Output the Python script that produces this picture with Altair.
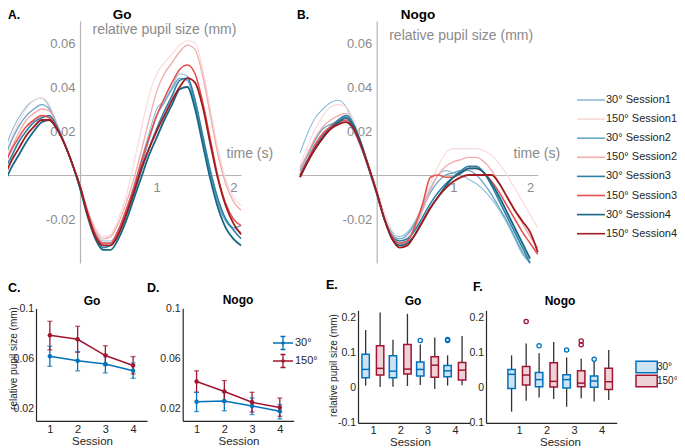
import altair as alt
import pandas as pd

W, H = 669, 440
FONT = "Liberation Sans"
GREY = "#8a8a8a"
AXGREY = "#b3b3b3"
DARK = "#262626"
BLUE = "#0072BD"
RED = "#A2142F"

# ---------------- Panels A / B : pupil time courses ----------------
T = [-1.0, -0.9, -0.8, -0.7, -0.6, -0.5, -0.4, -0.3, -0.2, -0.1, 0.0,
     0.1, 0.2, 0.3, 0.4, 0.5, 0.6, 0.7, 0.8, 0.9, 1.0, 1.1, 1.2, 1.3,
     1.4, 1.5, 1.6, 1.7, 1.8, 1.9, 2.0, 2.1]
SERIES = ["30° Session1", "150° Session1", "30° Session2", "150° Session2",
          "30° Session3", "150° Session3", "30° Session4", "150° Session4"]
SERIES_SESSION = [1, 1, 2, 2, 3, 3, 4, 4]
LINE_COLORS = ["#8dbdd8", "#f8d8d8", "#68a5c6", "#f2abab",
               "#2b80a8", "#e5504f", "#176783", "#a11b20"]

GO_30_S1 = [0.009, 0.019, 0.026, 0.031, 0.034, 0.035, 0.031, 0.023, 0.014, 0.005, -0.005, -0.017, -0.026, -0.030, -0.030, -0.025, -0.016, -0.005, 0.007, 0.019, 0.030, 0.034, 0.040, 0.046, 0.045, 0.034, 0.017, 0.001, -0.012, -0.020, -0.024, -0.026]
GO_150_S1 = [0.006, 0.016, 0.024, 0.030, 0.034, 0.035, 0.032, 0.023, 0.014, 0.005, -0.005, -0.016, -0.024, -0.028, -0.027, -0.020, -0.010, 0.005, 0.021, 0.036, 0.046, 0.051, 0.055, 0.059, 0.061, 0.060, 0.048, 0.030, 0.012, -0.002, -0.010, -0.014]
GO_30_S2 = [0.006, 0.015, 0.022, 0.027, 0.030, 0.032, 0.030, 0.023, 0.014, 0.005, -0.005, -0.017, -0.027, -0.031, -0.031, -0.026, -0.018, -0.008, 0.004, 0.016, 0.027, 0.033, 0.039, 0.044, 0.043, 0.032, 0.016, 0.000, -0.013, -0.021, -0.024, -0.023]
GO_150_S2 = [0.004, 0.012, 0.019, 0.025, 0.028, 0.030, 0.029, 0.023, 0.014, 0.005, -0.005, -0.016, -0.025, -0.029, -0.028, -0.022, -0.013, -0.002, 0.011, 0.025, 0.038, 0.046, 0.051, 0.056, 0.059, 0.057, 0.045, 0.027, 0.009, -0.004, -0.012, -0.016]
GO_30_S3 = [0.001, 0.008, 0.015, 0.020, 0.024, 0.026, 0.027, 0.022, 0.014, 0.005, -0.006, -0.018, -0.028, -0.033, -0.032, -0.027, -0.019, -0.009, 0.002, 0.012, 0.021, 0.029, 0.036, 0.043, 0.044, 0.034, 0.018, 0.002, -0.011, -0.020, -0.025, -0.029]
GO_150_S3 = [0.003, 0.011, 0.017, 0.022, 0.025, 0.027, 0.026, 0.021, 0.014, 0.005, -0.005, -0.017, -0.027, -0.031, -0.031, -0.025, -0.016, -0.006, 0.006, 0.017, 0.027, 0.035, 0.042, 0.048, 0.050, 0.046, 0.033, 0.016, -0.001, -0.013, -0.020, -0.023]
GO_30_S4 = [-0.005, 0.003, 0.009, 0.015, 0.020, 0.024, 0.025, 0.021, 0.014, 0.005, -0.006, -0.019, -0.029, -0.034, -0.034, -0.029, -0.021, -0.011, -0.001, 0.009, 0.017, 0.025, 0.032, 0.039, 0.040, 0.030, 0.014, -0.002, -0.015, -0.024, -0.029, -0.032]
GO_150_S4 = [-0.002, 0.006, 0.012, 0.018, 0.022, 0.025, 0.025, 0.021, 0.014, 0.005, -0.005, -0.018, -0.028, -0.032, -0.032, -0.027, -0.018, -0.008, 0.003, 0.012, 0.020, 0.027, 0.034, 0.040, 0.044, 0.042, 0.031, 0.014, -0.002, -0.014, -0.022, -0.027]

NOGO_30_S1 = [0.010, 0.019, 0.026, 0.030, 0.033, 0.034, 0.031, 0.023, 0.013, 0.003, -0.008, -0.019, -0.026, -0.028, -0.026, -0.021, -0.014, -0.006, 0.000, 0.002, 0.001, 0.000, -0.002, -0.004, -0.007, -0.011, -0.016, -0.022, -0.029, -0.036, -0.040]
NOGO_150_S1 = [0.004, 0.013, 0.021, 0.027, 0.031, 0.032, 0.031, 0.025, 0.015, 0.004, -0.006, -0.017, -0.025, -0.029, -0.028, -0.022, -0.013, -0.004, 0.004, 0.010, 0.012, 0.012, 0.012, 0.012, 0.011, 0.009, 0.005, 0.000, -0.006, -0.012, -0.018, -0.024]
NOGO_30_S2 = [0.002, 0.009, 0.016, 0.021, 0.023, 0.024, 0.024, 0.020, 0.012, 0.002, -0.009, -0.020, -0.027, -0.029, -0.027, -0.022, -0.015, -0.008, -0.003, 0.000, 0.001, 0.002, 0.002, 0.000, -0.004, -0.009, -0.015, -0.021, -0.028, -0.035, -0.040]
NOGO_150_S2 = [0.003, 0.010, 0.017, 0.022, 0.025, 0.027, 0.028, 0.023, 0.014, 0.004, -0.007, -0.019, -0.028, -0.031, -0.030, -0.024, -0.016, -0.007, 0.000, 0.004, 0.006, 0.007, 0.008, 0.008, 0.006, 0.002, -0.004, -0.010, -0.016, -0.022, -0.028, -0.033]
NOGO_30_S3 = [0.000, 0.007, 0.013, 0.018, 0.022, 0.025, 0.027, 0.023, 0.014, 0.003, -0.008, -0.020, -0.028, -0.030, -0.029, -0.025, -0.019, -0.013, -0.008, -0.004, -0.001, 0.002, 0.004, 0.004, 0.001, -0.005, -0.012, -0.019, -0.026, -0.033, -0.040]
NOGO_150_S3 = [0.000, 0.007, 0.014, 0.019, 0.022, 0.024, 0.025, 0.021, 0.013, 0.003, -0.008, -0.020, -0.028, -0.031, -0.030, -0.023, -0.013, -0.001, 0.000, -0.001, -0.001, 0.001, 0.003, 0.003, 0.001, -0.003, -0.008, -0.014, -0.020, -0.026, -0.031, -0.036]
NOGO_30_S4 = [-0.001, 0.006, 0.012, 0.017, 0.021, 0.024, 0.026, 0.022, 0.014, 0.003, -0.008, -0.020, -0.029, -0.032, -0.031, -0.027, -0.021, -0.015, -0.010, -0.005, -0.001, 0.001, 0.003, 0.003, 0.001, -0.004, -0.010, -0.017, -0.024, -0.031, -0.038]
NOGO_150_S4 = [-0.001, 0.006, 0.012, 0.017, 0.021, 0.023, 0.024, 0.021, 0.013, 0.003, -0.008, -0.020, -0.029, -0.033, -0.032, -0.027, -0.021, -0.015, -0.010, -0.006, -0.003, -0.001, 0.000, 0.000, 0.000, 0.000, -0.004, -0.010, -0.016, -0.021, -0.026, -0.035]

# ---------------- Panels C / D : means with error bars ----------------
SESSIONS = [1, 2, 3, 4]
CONDS = ["30°", "150°"]
C_MEAN_30 = [0.0616, 0.0580, 0.0555, 0.0500]
C_LO_30 = [0.0536, 0.0500, 0.0483, 0.0440]
C_HI_30 = [0.0696, 0.0654, 0.0630, 0.0563]
C_MEAN_150 = [0.0784, 0.0752, 0.0622, 0.0542]
C_LO_150 = [0.0667, 0.0648, 0.0542, 0.0475]
C_HI_150 = [0.0896, 0.0856, 0.0700, 0.0614]
D_MEAN_30 = [0.0253, 0.0259, 0.0219, 0.0176]
D_LO_30 = [0.0174, 0.0180, 0.0150, 0.0115]
D_HI_30 = [0.0328, 0.0330, 0.0283, 0.0230]
D_MEAN_150 = [0.0414, 0.0334, 0.0248, 0.0206]
D_LO_150 = [0.0328, 0.0253, 0.0170, 0.0136]
D_HI_150 = [0.0500, 0.0422, 0.0328, 0.0282]

# ---------------- Panels E / F : box plots ----------------
# per session: [lower whisker, q1, median, q3, upper whisker]
E_BOX_30 = [[0.006, 0.028, 0.052, 0.095, 0.164], [0.003, 0.028, 0.047, 0.091, 0.136],
            [0.008, 0.033, 0.052, 0.073, 0.123], [0.006, 0.031, 0.048, 0.063, 0.092]]
E_BOX_150 = [[0.002, 0.036, 0.055, 0.119, 0.214], [0.005, 0.039, 0.053, 0.123, 0.210],
             [-0.004, 0.030, 0.064, 0.088, 0.143], [0.007, 0.022, 0.050, 0.072, 0.147]]
F_BOX_30 = [[-0.068, -0.002, 0.038, 0.052, 0.092], [-0.028, 0.003, 0.023, 0.043, 0.098],
            [-0.054, -0.001, 0.023, 0.037, 0.086], [-0.039, 0.001, 0.019, 0.033, 0.075]]
F_BOX_150 = [[-0.037, 0.008, 0.036, 0.060, 0.126], [-0.032, 0.002, 0.018, 0.071, 0.130],
             [-0.030, 0.003, 0.013, 0.048, 0.082], [-0.035, -0.005, 0.017, 0.055, 0.107]]
E_OUT_30 = [(3, 0.134), (4, 0.134), (4, 0.137)]
E_OUT_150 = []
F_OUT_30 = [(2, 0.119), (3, 0.107), (4, 0.081)]
F_OUT_150 = [(1, 0.188), (3, 0.122), (3, 0.133)]

BOX_FILLS = ["#cde2f3", "#efd2d8"]

# ---------------- tables ----------------
rows = []
go_sets = [GO_30_S1, GO_150_S1, GO_30_S2, GO_150_S2, GO_30_S3, GO_150_S3, GO_30_S4, GO_150_S4]
nogo_sets = [NOGO_30_S1, NOGO_150_S1, NOGO_30_S2, NOGO_150_S2, NOGO_30_S3, NOGO_150_S3, NOGO_30_S4, NOGO_150_S4]
for panel, sets in (("Go", go_sets), ("Nogo", nogo_sets)):
    for name, ses, vals in zip(SERIES, SERIES_SESSION, sets):
        for t, v in zip(T, vals):
            rows.append({"panel": panel, "series": name, "session": ses, "t": t, "v": v})
curves = pd.DataFrame(rows)

rows = []
for panel, groups in (("Go", [(CONDS[0], C_MEAN_30, C_LO_30, C_HI_30), (CONDS[1], C_MEAN_150, C_LO_150, C_HI_150)]),
                      ("Nogo", [(CONDS[0], D_MEAN_30, D_LO_30, D_HI_30), (CONDS[1], D_MEAN_150, D_LO_150, D_HI_150)])):
    for cond, m, lo, hi in groups:
        for s, a, b, c in zip(SESSIONS, m, lo, hi):
            rows.append({"panel": panel, "cond": cond, "session": s, "mean": a, "lo": b, "hi": c})
means = pd.DataFrame(rows)

rows = []
for panel, groups in (("Go", [(CONDS[0], 30, E_BOX_30), (CONDS[1], 150, E_BOX_150)]),
                      ("Nogo", [(CONDS[0], 30, F_BOX_30), (CONDS[1], 150, F_BOX_150)])):
    for cond, deg, stats in groups:
        for s, st in zip(SESSIONS, stats):
            rows.append({"panel": panel, "cond": cond, "deg": deg, "session": s,
                         "low": st[0], "q1": st[1], "med": st[2], "q3": st[3], "high": st[4]})
boxes = pd.DataFrame(rows)

rows = []
for panel, groups in (("Go", [(CONDS[0], 30, E_OUT_30), (CONDS[1], 150, E_OUT_150)]),
                      ("Nogo", [(CONDS[0], 30, F_OUT_30), (CONDS[1], 150, F_OUT_150)])):
    for cond, deg, pts in groups:
        for s, v in pts:
            rows.append({"panel": panel, "cond": cond, "deg": deg, "session": s, "v": v})
outliers = pd.DataFrame(rows)

ONE = pd.DataFrame({"k": [0]})
MINUS = "\u2212"


def lab_expr(fmt):
    return "replace(format(datum.value, '" + fmt + "'), '" + MINUS + "', '-')"


def txt(s, x, y, size, weight="bold", align="left"):
    return alt.Chart(ONE).mark_text(text=s, fontSize=size, fontWeight=weight, align=align,
                                    baseline="middle", font=FONT, color="#000000").encode(
        x=alt.value(x), y=alt.value(y))


# ---------------- top panels ----------------
PX_S = 76.7
TOP_Y_RANGE = [255, 13]


def top_panel(panel, t0, title_y, time_x, legend):
    xsc = alt.Scale(domain=[-1.0, 2.1], range=[t0 - PX_S, t0 + 2.1 * PX_S], nice=False, zero=False)
    ysc = alt.Scale(domain=[-0.04, 0.07], range=TOP_Y_RANGE, nice=False, zero=False)
    xax = alt.Axis(orient="bottom", offset=167 - H, values=[1, 2], format="d", grid=False, ticks=False,
                   labelPadding=6, labelFontSize=13, labelColor=GREY, domainColor=AXGREY, domainWidth=1.2,
                   labelFlush=False, title="time (s)", titleX=time_x, titleY=-22, titleAngle=0,
                   titleAlign="left", titleBaseline="middle", titleFontSize=14, titleFontWeight="normal",
                   titleColor=GREY)
    yax = alt.Axis(orient="left", offset=-t0, values=[-0.02, 0.02, 0.04, 0.06], labelExpr=lab_expr(".2f"),
                   grid=False, ticks=False, labelPadding=5, labelFontSize=13, labelColor=GREY,
                   domainColor=AXGREY, domainWidth=1.2, labelFlush=False,
                   title="relative pupil size (mm)", titleX=12, titleY=title_y, titleAngle=0,
                   titleAlign="left", titleBaseline="middle", titleFontSize=14, titleFontWeight="normal",
                   titleColor=GREY)
    return alt.Chart(curves).transform_filter(alt.datum.panel == panel).mark_line(
        interpolate="monotone").encode(
        x=alt.X("t:Q", scale=xsc, axis=xax),
        y=alt.Y("v:Q", scale=ysc, axis=yax),
        color=alt.Color("series:N", scale=alt.Scale(domain=SERIES, range=LINE_COLORS), legend=legend),
        strokeWidth=alt.StrokeWidth("session:Q", scale=alt.Scale(domain=[1, 4], range=[1.1, 1.8]), legend=None),
    )


top_legend = alt.Legend(title=None, orient="none", legendX=575, legendY=84, symbolType="M-2,0H2",
                        symbolSize=196, symbolStrokeWidth=1.6, labelFontSize=11, labelFont=FONT,
                        labelColor=DARK, labelOffset=7, rowPadding=6.1, padding=0, labelLimit=0)

# ---------------- mean panels ----------------
CD_Y_RANGE = [412.8, 300.3]
ERR_SYMBOL = ("M-2,0H2M0,-1.3V1.3M-0.5,-1.3H0.5M-0.5,1.3H0.5"
              "M0.24,0A0.24,0.24,0,1,1,-0.24,0A0.24,0.24,0,1,1,0.24,0")


def bottom_axes(x0, xdom_bottom, vals, fmt, title_x, title_y, lab_pad, y_title=None, y_title_x=0, y_title_y=0):
    xax = alt.Axis(orient="bottom", offset=xdom_bottom - H, values=[1, 2, 3, 4], format="d", grid=False,
                   ticks=False, labelPadding=lab_pad, labelFontSize=11, labelColor=DARK, domainColor=DARK,
                   domainWidth=1.2, labelFlush=False, title="Session", titleX=title_x, titleY=title_y,
                   titleAlign="center", titleBaseline="middle", titleFontSize=11.5, titleFontWeight="normal",
                   titleColor=DARK)
    ykw = dict(orient="left", offset=-x0, values=vals, labelExpr=lab_expr(fmt), grid=False, ticks=False,
               labelPadding=2.5, labelFontSize=10.5, labelColor=DARK, domainColor=DARK, domainWidth=1.2,
               labelFlush=False)
    if y_title:
        ykw.update(title=y_title, titleX=y_title_x, titleY=y_title_y, titleAngle=-90, titleAlign="center",
                   titleBaseline="middle", titleFontSize=10, titleFontWeight="normal", titleColor=DARK)
    else:
        ykw.update(title=None)
    return xax, alt.Axis(**ykw)


def mean_panel(panel, x0, title_x, legend, y_title=None):
    xsc = alt.Scale(domain=[0.5, 4.5], range=[x0, x0 + 111], nice=False, zero=False)
    ysc = alt.Scale(domain=[0.01, 0.1], range=CD_Y_RANGE, nice=False, zero=False)
    xax, yax = bottom_axes(x0, CD_Y_RANGE[0], [0.02, 0.06, 0.1], ".2~f", title_x, 433 - CD_Y_RANGE[0], 2.5,
                           y_title, 5.8 - x0, 350)
    base = alt.Chart(means).transform_filter(alt.datum.panel == panel)

    def col(leg):
        return alt.Color("cond:N", scale=alt.Scale(domain=CONDS, range=[BLUE, RED]), legend=leg)

    X = alt.X("session:Q", scale=xsc, axis=None)
    bars = base.mark_rule(strokeWidth=1.3).encode(
        x=alt.X("session:Q", scale=xsc, axis=xax), y=alt.Y("lo:Q", scale=ysc, axis=yax), y2="hi:Q", color=col(None))
    cap_lo = base.mark_tick(orient="horizontal", size=5, thickness=1.3).encode(
        x=X, y=alt.Y("lo:Q", scale=ysc, axis=None), color=col(None))
    cap_hi = base.mark_tick(orient="horizontal", size=5, thickness=1.3).encode(
        x=X, y=alt.Y("hi:Q", scale=ysc, axis=None), color=col(None))
    line = base.mark_line(strokeWidth=1.5).encode(
        x=X, y=alt.Y("mean:Q", scale=ysc, axis=None), color=col(legend))
    pts = base.mark_point(filled=True, size=20, opacity=1).encode(
        x=X, y=alt.Y("mean:Q", scale=ysc, axis=None), color=col(None))
    return [bars, cap_lo, cap_hi, line, pts]


cd_legend = alt.Legend(title=None, orient="none", legendX=269, legendY=329, symbolType=ERR_SYMBOL,
                       symbolSize=100, symbolStrokeWidth=1.3, labelFontSize=11, labelFont=FONT,
                       labelColor=DARK, labelOffset=6, rowPadding=-2, padding=0)

# ---------------- box panels ----------------
EF_Y_RANGE = [414.9, 302.3]
BOX_SYMBOL = "M-2.5,-1.35H2.5V1.35H-2.5Z"


def box_panel(panel, xdom, xrng, title_x, legend, y_title=None):
    xsc = alt.Scale(domain=xdom, range=xrng, nice=False, zero=False)
    ysc = alt.Scale(domain=[-0.1, 0.22], range=EF_Y_RANGE, nice=False, zero=False)
    xax, yax = bottom_axes(xrng[0], EF_Y_RANGE[0], [-0.1, 0, 0.1, 0.2], ".1~f", title_x, 434.5 - EF_Y_RANGE[0], 2,
                           y_title, 325 - xrng[0], 357)
    base = alt.Chart(boxes).transform_filter(alt.datum.panel == panel).transform_calculate(
        xc="datum.session + (datum.deg == 30 ? -0.27 : 0.26)").transform_calculate(
        xl="datum.xc - 0.135", xr="datum.xc + 0.135")
    whisk = base.mark_rule(color="#333333", strokeWidth=1.3).encode(
        x=alt.X("xc:Q", scale=xsc, axis=xax), y=alt.Y("low:Q", scale=ysc, axis=yax), y2="high:Q")
    rect = base.mark_rect(strokeWidth=1.5).encode(
        x=alt.X("xl:Q", scale=xsc, axis=None), x2="xr:Q",
        y=alt.Y("q1:Q", scale=ysc, axis=None), y2="q3:Q",
        fill=alt.Fill("cond:N", scale=alt.Scale(domain=CONDS, range=BOX_FILLS), legend=legend),
        stroke=alt.Stroke("cond:N", scale=alt.Scale(domain=CONDS, range=[BLUE, RED]), legend=legend))
    med = base.mark_rule(strokeWidth=1.5).encode(
        x=alt.X("xl:Q", scale=xsc, axis=None), x2="xr:Q", y=alt.Y("med:Q", scale=ysc, axis=None),
        color=alt.Color("cond:N", scale=alt.Scale(domain=CONDS, range=[BLUE, RED]), legend=None))
    outl = alt.Chart(outliers).transform_filter(alt.datum.panel == panel).transform_calculate(
        xc="datum.session + (datum.deg == 30 ? -0.27 : 0.26)").mark_point(
        filled=False, size=18, strokeWidth=1.3, opacity=1).encode(
        x=alt.X("xc:Q", scale=xsc, axis=None), y=alt.Y("v:Q", scale=ysc, axis=None),
        color=alt.Color("cond:N", scale=alt.Scale(domain=CONDS, range=[BLUE, RED]), legend=None))
    return [whisk, rect, med, outl]


ef_legend = alt.Legend(title=None, orient="none", legendX=633.6, legendY=354, symbolType=BOX_SYMBOL,
                       symbolSize=72.25, symbolStrokeWidth=1.5, labelFontSize=10, labelFont=FONT,
                       labelColor=DARK, labelOffset=5.4, rowPadding=-4, padding=0)

layers = [
    top_panel("Go", 72.0, 21, 218, top_legend),
    top_panel("Nogo", 368.7, 27, 505, None),
]
layers += mean_panel("Go", 28, 84, None, y_title="relative pupil size (mm)")
layers += mean_panel("Nogo", 174.7, 230.5, cd_legend)
layers += box_panel("Go", [0.45, 4.55], [350, 462], 402, None, y_title="relative pupil size (mm)")
layers += box_panel("Nogo", [-0.2, 4.55], [478, 608.7], 552, ef_legend)
layers += [
    txt("A.", 0, 7, 12), txt("Go", 114, 6.5, 13.5, align="center"),
    txt("B.", 289, 7, 12), txt("Nogo", 410, 6.5, 13.5, align="center"),
    txt("C.", 0, 280, 12.5), txt("Go", 84, 293, 12, align="center"),
    txt("D.", 139, 280, 12.5), txt("Nogo", 230, 292, 12, align="center"),
    txt("E.", 318, 277, 12.5), txt("Go", 405, 293, 12, align="center"),
    txt("F.", 465, 279, 12.5), txt("Nogo", 552, 293, 12, align="center"),
]

chart = alt.layer(*layers).resolve_scale(
    x="independent", y="independent", color="independent", fill="independent",
    stroke="independent", strokeWidth="independent",
).properties(
    width=W, height=H, autosize=alt.AutoSizeParams(type="none"), padding=0,
).configure_view(stroke=None).configure_axis(labelFont=FONT, titleFont=FONT).configure_legend(
    labelFont=FONT)

chart.save("out.html", embed_options={"renderer": "svg", "actions": False})
